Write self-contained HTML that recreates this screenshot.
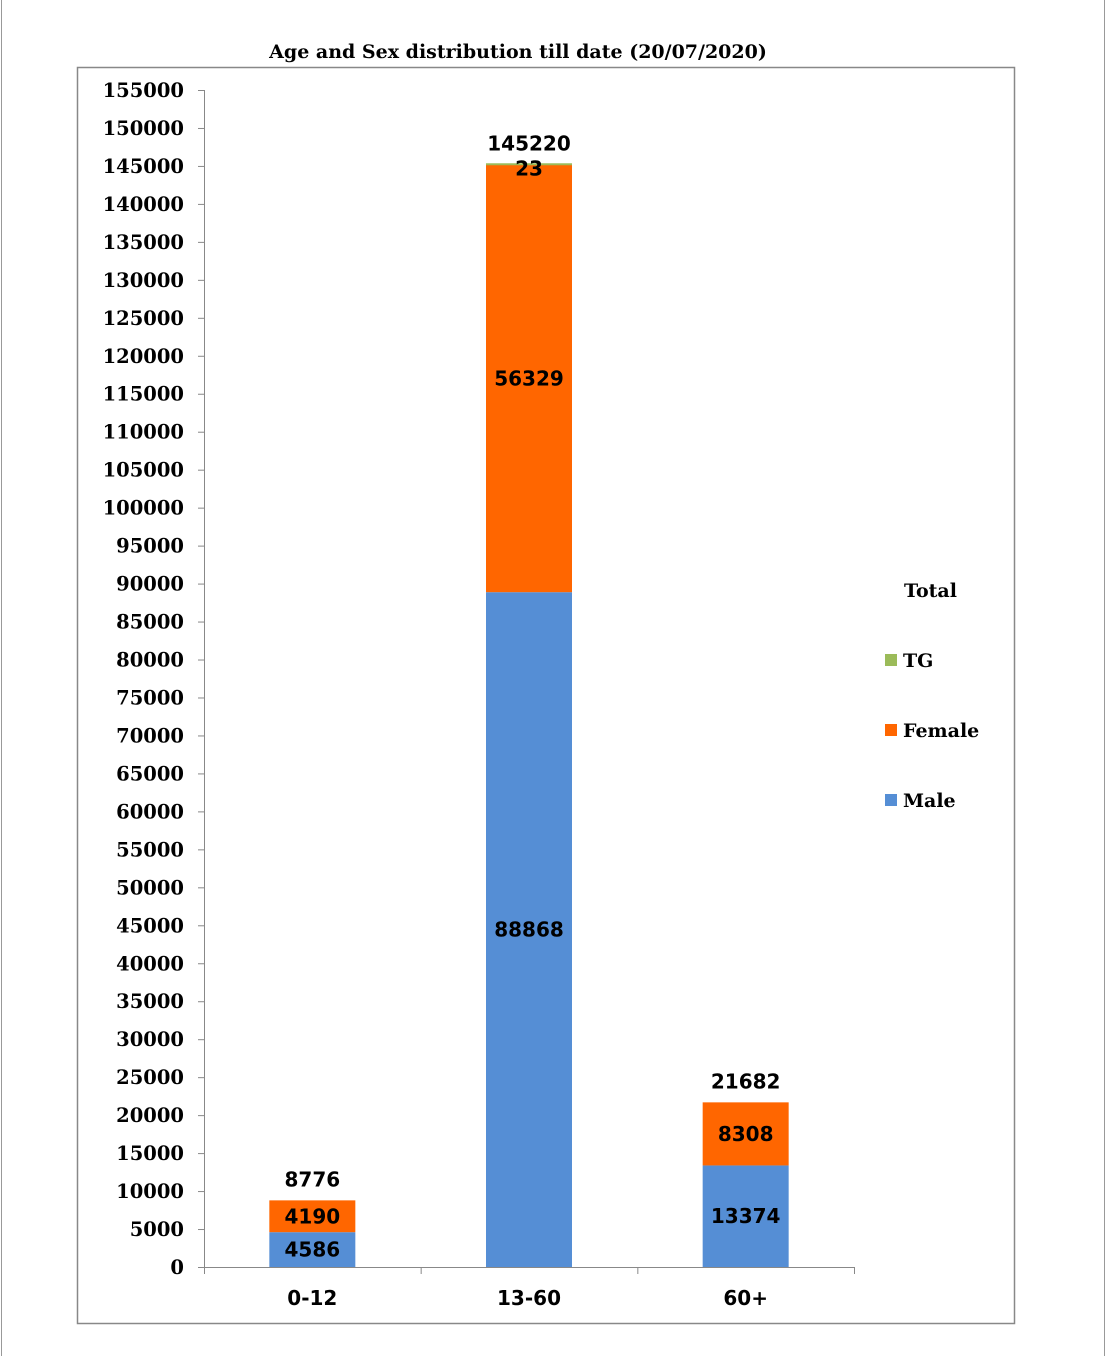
<!DOCTYPE html>
<html><head><meta charset="utf-8">
<style>
html,body{margin:0;padding:0;background:#fff;}
body{width:1106px;height:1356px;position:relative;overflow:hidden;}
.pb{position:absolute;top:0;bottom:0;width:1px;background:#999;}
</style></head>
<body>
<div class="pb" style="left:1px"></div>
<div class="pb" style="left:1104px"></div>
<svg id="chart" width="1106" height="1356" style="position:absolute;left:0;top:0">
<rect x="77.5" y="67.5" width="937" height="1256" fill="none" stroke="#888" stroke-width="1.5"/>
<text x="518" y="58" text-anchor="middle" font-family="'DejaVu Serif','Liberation Serif',serif" font-weight="bold" font-size="19">Age and Sex distribution till date (20/07/2020)</text>
<g id="ticks"></g><g id="bars"></g><g id="labels"></g>
<line x1="204.5" y1="90" x2="204.5" y2="1267" stroke="#888"/>
<line x1="204" y1="1267.5" x2="854" y2="1267.5" stroke="#888"/>
<g font-family="'DejaVu Serif','Liberation Serif',serif" font-weight="bold" font-size="19">
<text x="904" y="597">Total</text>
<rect x="885" y="654" width="12" height="12" fill="#9bbb59"/>
<text x="903" y="667">TG</text>
<rect x="885" y="724" width="12" height="12" fill="#ff6600"/>
<text x="903" y="737">Female</text>
<rect x="885" y="794" width="12" height="12" fill="#558ed5"/>
<text x="903" y="807">Male</text>
</g>
</svg>
<script>
const categories = ["0-12","13-60","60+"];
const male = [4586,88868,13374];
const female = [4190,56329,8308];
const tg = [0,23,0];
const totals = [8776,145220,21682];
const yTicks = [0,5000,10000,15000,20000,25000,30000,35000,40000,45000,50000,55000,60000,65000,70000,75000,80000,85000,90000,95000,100000,105000,110000,115000,120000,125000,130000,135000,140000,145000,150000,155000];

const NS="http://www.w3.org/2000/svg";
const y0=1267, yTop=90, yMax=155000, xL=204, xR=854;
const y=v=>y0-(v/yMax)*(y0-yTop);
const band=(xR-xL)/categories.length;
const xc=i=>xL+band*(i+0.5);
const bw=86;
function mk(tag,attrs,parent){const e=document.createElementNS(NS,tag);for(const k in attrs)e.setAttribute(k,attrs[k]);parent.appendChild(e);return e;}
const gt=document.getElementById('ticks'), gb=document.getElementById('bars'), gl=document.getElementById('labels');
yTicks.forEach(t=>{
  const l=mk('line',{x1:198,x2:204,y1:y(t)+0.5,y2:y(t)+0.5,stroke:'#888'},gt);
  
  
  const tx=mk('text',{x:184,y:y(t)+7,'text-anchor':'end','font-family':"'DejaVu Serif','Liberation Serif',serif",'font-weight':'bold','font-size':'19.5'},gt);
  tx.textContent=t;
  
  
});
for(let i=0;i<=categories.length;i++){
  const l=mk('line',{x1:xL+band*i+0.5,x2:xL+band*i+0.5,y1:1267,y2:1274,stroke:'#888'},gt);
  
  
}
const lf={'font-family':"'DejaVu Sans','Liberation Sans',sans-serif",'font-weight':'bold','font-size':'20','text-anchor':'middle'};
function label(txt,x,yy,name){const t=mk('text',Object.assign({x:x,y:yy},lf),gl);t.textContent=txt;}
categories.forEach((c,i)=>{
  const x=xc(i)-bw/2;
  const r1=mk('rect',{x:x,y:y(male[i]),width:bw,height:y0-y(male[i]),fill:'#558ed5'},gb);
  
  
  const r2=mk('rect',{x:x,y:y(male[i]+female[i]),width:bw,height:y(male[i])-y(male[i]+female[i]),fill:'#ff6600'},gb);
  
  
  if(tg[i]>0){
    const top=male[i]+female[i]+tg[i];
    const r3=mk('rect',{x:x,y:y(top)-1,width:bw,height:Math.max(2,y(male[i]+female[i])-y(top)),fill:'#9bbb59'},gb);
    
    
    label(String(tg[i]),xc(i),y(top)+11,'tg-value-label');
  }
  label(String(male[i]),xc(i),(y0+y(male[i]))/2+7,'male-value-label');
  label(String(female[i]),xc(i),(y(male[i])+y(male[i]+female[i]))/2+7,'female-value-label');
  label(String(totals[i]),xc(i),y(totals[i])-14,'total-value-label');
  label(c,xc(i),1305,'x-category-label');
});
</script>
</body></html>
